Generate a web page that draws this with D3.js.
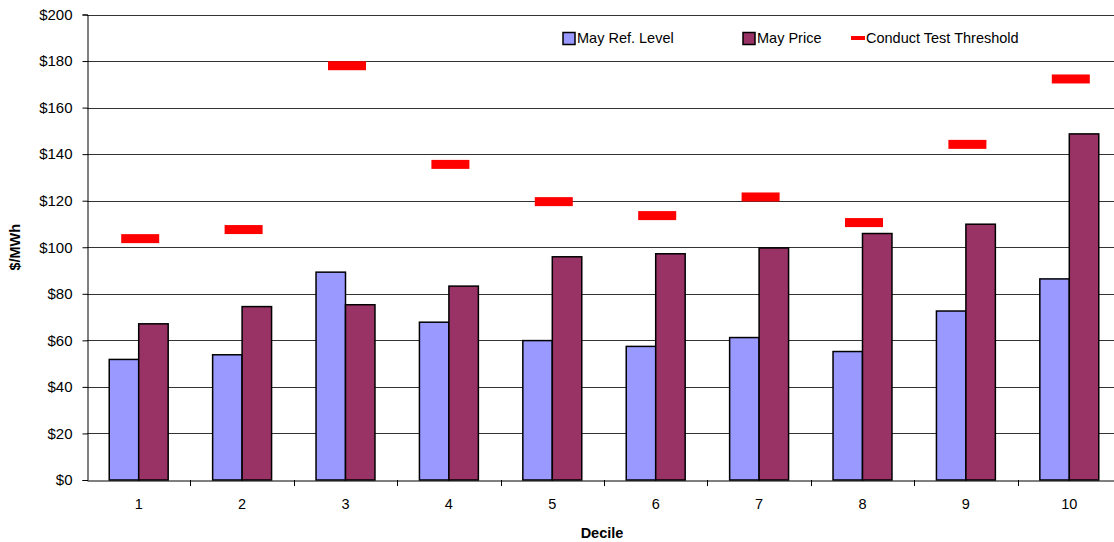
<!DOCTYPE html>
<html>
<head>
<meta charset="utf-8">
<script src="https://cdn.jsdelivr.net/npm/d3@7/dist/d3.min.js"></script>
<style>
  html, body { margin: 0; padding: 0; background: #fff; overflow: hidden; }
  svg { display: block; font-family: "Liberation Sans", Arial, sans-serif; }
</style>
</head>
<body>
<svg id="chart" width="1114" height="542"></svg>
<script>
// Decile categories and monthly values ($/MWh)
const deciles = ["1", "2", "3", "4", "5", "6", "7", "8", "9", "10"];
const refLevel = [51.8, 53.8, 89.3, 67.8, 59.9, 57.4, 61.2, 55.2, 72.6, 86.4];
const price = [67.1, 74.5, 75.3, 83.3, 95.9, 97.2, 99.7, 105.9, 109.9, 148.7];
const threshold = [103.7, 107.6, 178.0, 135.6, 119.6, 113.6, 121.6, 110.6, 144.2, 172.3];
const yTicks = [0, 20, 40, 60, 80, 100, 120, 140, 160, 180, 200];
const seriesNames = ["May Ref. Level", "May Price", "Conduct Test Threshold"];
const colors = { ref: "#9999FF", price: "#993366", threshold: "#FF0000" };

const svg = d3.select("#chart");
const W = 1114, H = 542;
// plot area runs slightly past the right edge of the canvas
const margin = { left: 87, right: -7, top: 14.5, bottom: 62 };

const x = d3.scaleBand().domain(deciles).range([margin.left, W - margin.right]).padding(0);
const y = d3.scaleLinear().domain([0, 200]).range([H - margin.bottom, margin.top]);
const bw = x.bandwidth();
const sub = d3.scaleBand().domain(["ref", "price"]).range([bw * 0.215, bw * 0.785]).padding(0);

// gridlines
svg.append("g")
  .selectAll("line")
  .data(yTicks.filter(d => d > 0))
  .join("line")
  .attr("x1", margin.left).attr("x2", W)
  .attr("y1", d => Math.round(y(d)) + 0.5).attr("y2", d => Math.round(y(d)) + 0.5)
  .attr("stroke", "#333").attr("stroke-width", 1);

// y axis
const yAxis = d3.axisLeft(y).tickValues(yTicks).tickSize(5).tickPadding(10)
  .tickFormat(d => "$" + d);
const gy = svg.append("g").attr("transform", `translate(${margin.left + 0.5},0)`).call(yAxis);
gy.select(".domain").attr("stroke", "#000");
gy.selectAll(".tick line").attr("stroke", "#000");
gy.selectAll(".tick text").attr("font-size", 15).attr("fill", "#000")
  .attr("font-family", "'Liberation Sans', Arial, sans-serif");

// bars
const groups = svg.append("g").selectAll("g")
  .data(deciles.map((d, i) => ({ d, ref: refLevel[i], price: price[i] })))
  .join("g")
  .attr("transform", r => `translate(${x(r.d)},0)`);

groups.selectAll("rect")
  .data(r => ["ref", "price"].map(k => ({ k, v: r[k] })))
  .join("rect")
  .attr("x", b => sub(b.k))
  .attr("width", sub.bandwidth())
  .attr("y", b => y(b.v))
  .attr("height", b => y(0) - y(b.v))
  .attr("fill", b => colors[b.k])
  .attr("stroke", "#000").attr("stroke-width", 1.5);

// threshold markers
const mW = 38, mH = 9;
svg.append("g").selectAll("rect")
  .data(deciles.map((d, i) => ({ d, v: threshold[i] })))
  .join("rect")
  .attr("x", r => x(r.d) + bw / 2 + 1.5 - mW / 2)
  .attr("y", r => y(r.v) - mH / 2)
  .attr("width", mW).attr("height", mH)
  .attr("fill", colors.threshold);

// x axis
const xAxis = d3.axisBottom(x).tickSize(0).tickPadding(18);
const gx = svg.append("g").attr("transform", `translate(0,${y(0) + 0.5})`).call(xAxis);
gx.select(".domain").attr("stroke", "#000");
gx.selectAll(".tick text").attr("font-size", 14.5).attr("fill", "#000")
  .attr("font-family", "'Liberation Sans', Arial, sans-serif");
// ticks on category boundaries
svg.append("g").selectAll("line")
  .data(deciles.slice(1))
  .join("line")
  .attr("x1", d => Math.round(x(d)) + 0.5).attr("x2", d => Math.round(x(d)) + 0.5)
  .attr("y1", y(0)).attr("y2", y(0) + 6)
  .attr("stroke", "#000");

// axis titles
svg.append("text")
  .attr("x", 602).attr("y", 538)
  .attr("text-anchor", "middle").attr("font-size", 14.5).attr("font-weight", "bold")
  .text("Decile");
svg.append("text")
  .attr("transform", `translate(20,${(y(0) + y(200)) / 2}) rotate(-90)`)
  .attr("text-anchor", "middle").attr("font-size", 14.5).attr("font-weight", "bold")
  .text("$/MWh");

// legend
const legend = svg.append("g").attr("font-size", 14.5);
const lx = [563, 743, 851];
legend.append("rect").attr("x", lx[0]).attr("y", 32.5).attr("width", 12).attr("height", 12)
  .attr("fill", colors.ref).attr("stroke", "#000").attr("stroke-width", 1.5);
legend.append("text").attr("x", lx[0] + 14).attr("y", 42.5).text(seriesNames[0]);
legend.append("rect").attr("x", lx[1]).attr("y", 32.5).attr("width", 12).attr("height", 12)
  .attr("fill", colors.price).attr("stroke", "#000").attr("stroke-width", 1.5);
legend.append("text").attr("x", lx[1] + 14).attr("y", 42.5).text(seriesNames[1]);
legend.append("rect").attr("x", lx[2]).attr("y", 36).attr("width", 14).attr("height", 4)
  .attr("fill", colors.threshold);
legend.append("text").attr("x", lx[2] + 15).attr("y", 42.5).text(seriesNames[2]);
</script>
</body>
</html>
